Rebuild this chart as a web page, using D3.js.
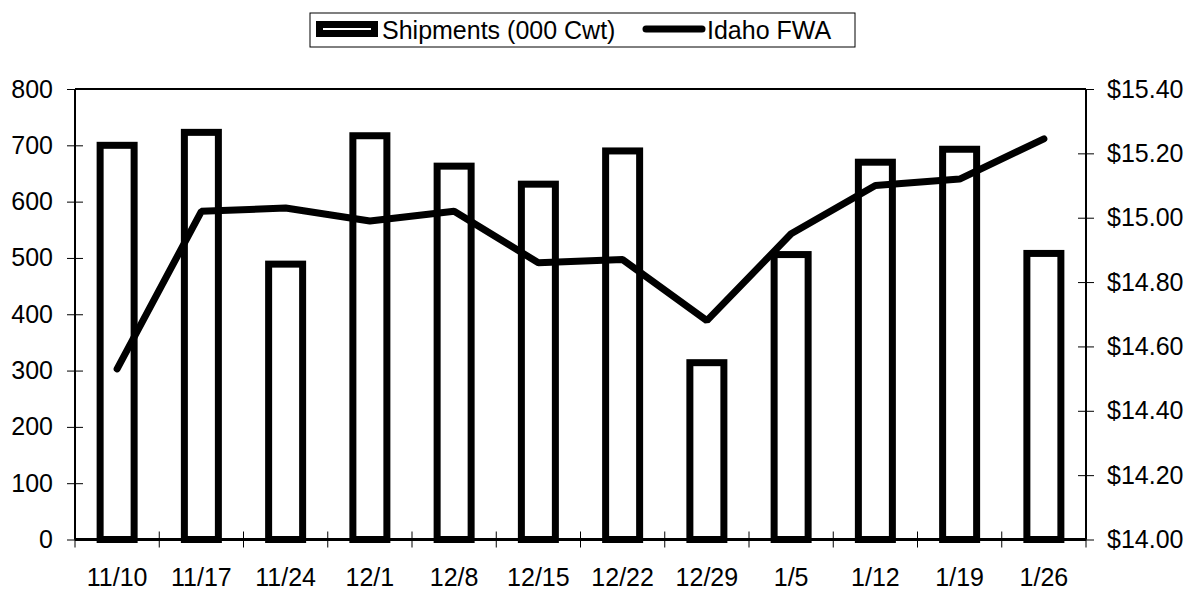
<!DOCTYPE html>
<html>
<head>
<meta charset="utf-8">
<script src="https://cdn.jsdelivr.net/npm/d3@7"></script>
<style>
  body { margin: 0; background: #fff; }
  svg text { font-family: Arial, "Liberation Sans", sans-serif; fill: #000; }
</style>
</head>
<body>
<div id="chart"></div>
<script>
// Data
const weeks = ['11/10', '11/17', '11/24', '12/1', '12/8', '12/15', '12/22', '12/29', '1/5', '1/12', '1/19', '1/26']
const shipments = [700, 723, 489, 717, 663, 631, 690, 314, 506, 670, 693, 508]
const fwa = [14.53, 15.02, 15.03, 14.99, 15.02, 14.86, 14.87, 14.68, 14.95, 15.10, 15.12, 15.245]
const leftTicks = [0, 100, 200, 300, 400, 500, 600, 700, 800]
const rightTicks = [14.0, 14.2, 14.4, 14.6, 14.8, 15.0, 15.2, 15.4]

const width = 1193
const height = 592
const margin = { top: 89, right: 107, bottom: 52.5, left: 75 }
const graphWidth = width - margin.left - margin.right
const graphHeight = height - margin.top - margin.bottom
const fontSize = '25px'

const svg = d3.select('#chart').append('svg')
    .attr('width', width)
    .attr('height', height)

const g = svg.append('g')
    .attr('transform', `translate(${margin.left}, ${margin.top})`)

// Scales
const x = d3.scaleBand().domain(weeks).range([0, graphWidth])
const yLeft = d3.scaleLinear().domain([0, 800]).range([graphHeight, 0])
const yRight = d3.scaleLinear().domain([14, 15.4]).range([graphHeight, 0])

const barW = 34

// Bars
g.selectAll('rect.bar')
    .data(weeks)
    .enter()
    .append('rect')
    .attr('class', 'bar')
    .attr('x', d => x(d) + x.bandwidth() / 2 - barW / 2)
    .attr('y', (d, i) => yLeft(shipments[i]))
    .attr('width', barW)
    .attr('height', (d, i) => graphHeight - yLeft(shipments[i]))
    .attr('fill', '#fff')
    .attr('stroke', '#000')
    .attr('stroke-width', 7)

// Frame top line
g.append('line')
    .attr('x1', 0).attr('x2', graphWidth)
    .attr('y1', 0).attr('y2', 0)
    .attr('stroke', '#000').attr('stroke-width', 2)

// Axes
const leftAxis = d3.axisLeft(yLeft).tickValues(leftTicks).tickSize(8).tickPadding(14)
const rightAxis = d3.axisRight(yRight).tickValues(rightTicks).tickSize(8).tickPadding(13)
    .tickFormat(d => '$' + d3.format('.2f')(d))
const xAxis = d3.axisBottom(x).tickSize(8)

const leftG = g.append('g').call(leftAxis)
const rightG = g.append('g').attr('transform', `translate(${graphWidth}, 0)`).call(rightAxis)
const xG = g.append('g').attr('transform', `translate(0, ${graphHeight})`).call(xAxis)

// Category boundary ticks on x axis instead of centered ones
xG.selectAll('.tick line').remove()
xG.selectAll('line.bound')
    .data(d3.range(weeks.length + 1))
    .enter()
    .append('line')
    .attr('class', 'bound')
    .attr('x1', i => i * x.step()).attr('x2', i => i * x.step())
    .attr('y1', -8).attr('y2', 8)
    .attr('stroke', '#000').attr('stroke-width', 1)

leftG.selectAll('.tick line').attr('x2', -8).attr('x1', 8)
rightG.selectAll('.tick line').attr('x1', -8).attr('x2', 8)

;[leftG, rightG, xG].forEach(a => {
    a.select('.domain').attr('stroke', '#000').attr('stroke-width', 2)
    a.selectAll('.tick line').attr('stroke', '#000')
    a.selectAll('text')
        .style('font-size', fontSize)
        .style('font-family', 'Arial, "Liberation Sans", sans-serif')
        .attr('fill', '#000')
})
leftG.select('.domain').attr('d', `M0,0V${graphHeight}`)
rightG.select('.domain').attr('d', `M0,0V${graphHeight}`)
xG.select('.domain').attr('d', `M0,0H${graphWidth}`).attr('stroke-width', 3)
xG.selectAll('.tick text').attr('y', 46).attr('dy', 0)

// Line
const line = d3.line()
    .x((d, i) => x(weeks[i]) + x.bandwidth() / 2)
    .y(d => yRight(d))

g.append('path')
    .datum(fwa)
    .attr('d', line)
    .attr('fill', 'none')
    .attr('stroke', '#000')
    .attr('stroke-width', 7)
    .attr('stroke-linecap', 'round')
    .attr('stroke-linejoin', 'bevel')

// Legend
const legend = svg.append('g').attr('transform', 'translate(310, 13)')
legend.append('rect')
    .attr('x', 0).attr('y', 0)
    .attr('width', 545).attr('height', 34)
    .attr('fill', '#fff').attr('stroke', '#000').attr('stroke-width', 1)
legend.append('rect')
    .attr('x', 9.5).attr('y', 11.5)
    .attr('width', 55).attr('height', 9)
    .attr('fill', '#fff').attr('stroke', '#000').attr('stroke-width', 7)
legend.append('text')
    .attr('x', 72).attr('y', 26)
    .style('font-size', fontSize)
    .text('Shipments (000 Cwt)')
legend.append('line')
    .attr('x1', 336).attr('x2', 392)
    .attr('y1', 16).attr('y2', 16)
    .attr('stroke', '#000').attr('stroke-width', 7)
    .attr('stroke-linecap', 'round')
legend.append('text')
    .attr('x', 397).attr('y', 26)
    .style('font-size', fontSize)
    .text('Idaho FWA')
</script>
</body>
</html>
